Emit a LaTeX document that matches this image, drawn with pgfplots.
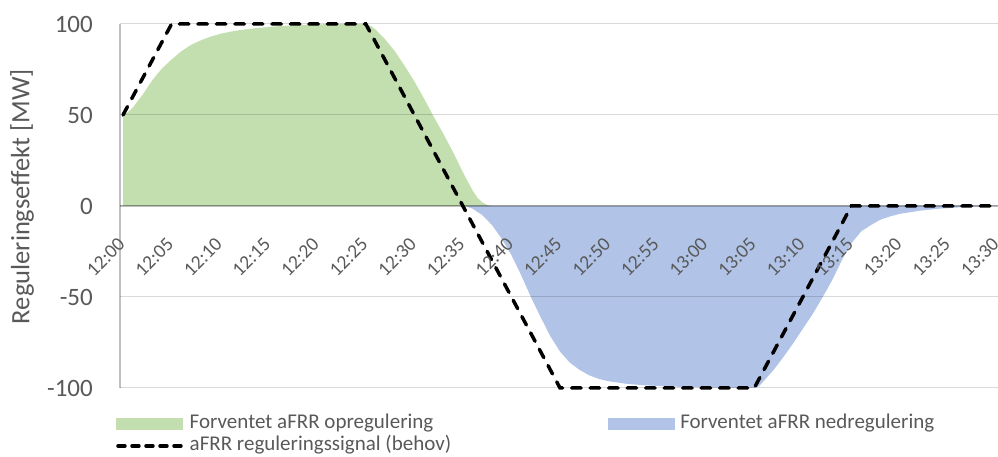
\documentclass[border=0pt]{standalone}
\usepackage{pgfplots}
\pgfplotsset{compat=1.18}
\usepackage{fontspec}
\setmainfont{Carlito}
\definecolor{greenA}{HTML}{C3DFB0}
\definecolor{blueA}{HTML}{B1C4E7}
\definecolor{textc}{HTML}{595959}
\begin{document}
\begin{tikzpicture}
\begin{axis}[
  axis on top,
  scale only axis,
  width=878pt, height=364pt,
  xmin=-0.31, xmax=90.1,
  ymin=-100, ymax=100,
  clip=false,
  axis x line=middle, axis y line=left,
  axis line style={black, opacity=0.25, line width=1.2pt, -},
  xtick={0,5,...,90},
  xticklabels={12:00,12:05,12:10,12:15,12:20,12:25,12:30,12:35,12:40,12:45,12:50,12:55,13:00,13:05,13:10,13:15,13:20,13:25,13:30},
  ytick={-100,-50,0,50,100},
  yticklabels={-100,-50,0,50,100},
  ymajorgrids, grid style={black, opacity=0.15, line width=1pt},
  major tick length=0pt,
  tick label style={textc},
  yticklabel style={font=\fontsize{25}{30}\selectfont, inner sep=0pt, anchor=east, xshift=-27pt},
  xticklabel style={font=\fontsize{19.5}{23}\selectfont, inner sep=0pt, outer xsep=26.2pt, outer ysep=17.7pt, rotate=45, anchor=north east},
  every axis y label/.style={at={(rel axis cs:0,0.5)}, xshift=-98pt, yshift=9.5pt, rotate=90, anchor=center, font=\fontsize{26.5}{30}\selectfont, textc},
  ylabel={Reguleringseffekt [MW]},
  legend columns=2,
  legend cell align=left,
  legend style={at={(rel axis cs:0,0)}, anchor=north west, xshift=-4pt, yshift=-25pt,
    draw=none, fill=none, inner sep=0pt, outer sep=0pt,
    font=\fontsize{21}{24}\selectfont, text=textc,
    nodes={inner sep=1pt, text height=15pt, text depth=5pt},
    /tikz/row sep=0pt},
]
\addplot[draw=none, fill=greenA,
  legend image code/.code={\fill[greenA] (0pt,-6pt) rectangle (67pt,6pt); \path (71pt,0pt);}]
  coordinates {(0,0) (0,50) (0.5,51.5) (1,54) (2,61) (3,69) (4,75.5) (5,80.5) (6,85) (7,88.5) (8,91) (9,93) (10,94.6) (11,95.7) (12,96.6) (13,97.3) (14,97.9) (16,98.8) (18,99.4) (20,99.8) (22,100) (25,100) (25.5,99) (26,97) (27,91.5) (28,85) (29,77) (30,68.5) (31,59) (32,49) (33,39.5) (34,29.5) (35,18.5) (36,8.5) (36.5,4.5) (37,2) (37.5,0.5) (38,0)} \closedcycle;
\addlegendentry{Forventet aFRR opregulering}
\addplot[draw=none, fill=blueA,
  legend image code/.code={\fill[blueA] (0pt,-6pt) rectangle (67pt,6pt); \path (71pt,0pt);}]
  coordinates {(35.2,0) (36,-1.5) (37,-5) (38,-10.5) (39,-18) (40,-27) (41,-38) (42,-50) (43,-61) (44,-71.5) (45,-80) (46,-86) (47,-90) (48,-93) (49,-95) (50,-96.3) (52,-97.8) (54,-98.6) (57,-99.3) (60,-99.7) (65,-100) (65.5,-99) (66,-96) (67,-90) (68,-83) (69,-75.5) (70,-67.5) (71,-59.5) (72,-50.5) (73,-41) (74,-30) (75,-20.5) (76,-14) (77,-10.5) (78,-7.5) (79,-5.7) (80,-4.3) (82,-2.6) (84,-1.5) (86,-0.8) (88,-0.3) (90,0)} \closedcycle;
\addlegendentry{Forventet aFRR nedregulering}
\addplot[black, line width=3.5pt, line cap=round, dash pattern=on 9.5pt off 9pt,
  legend image code/.code={\draw[black, line width=3.5pt, line cap=round, dash pattern=on 7pt off 7pt] (2pt,0pt) -- (66pt,0pt); \path (71pt,0pt);}]
  coordinates {(0,50) (5,100) (25,100) (45,-100) (65,-100) (75,0) (90,0)};
\addlegendentry{aFRR reguleringssignal (behov)\hspace*{156pt}}
\coordinate (bl) at (rel axis cs:0,0);
\coordinate (tr) at (rel axis cs:1,1);
\end{axis}
\pgfresetboundingbox
\path[use as bounding box] ([xshift=-120pt, yshift=-69pt]bl) rectangle ([yshift=24pt]tr);
\end{tikzpicture}
\end{document}
